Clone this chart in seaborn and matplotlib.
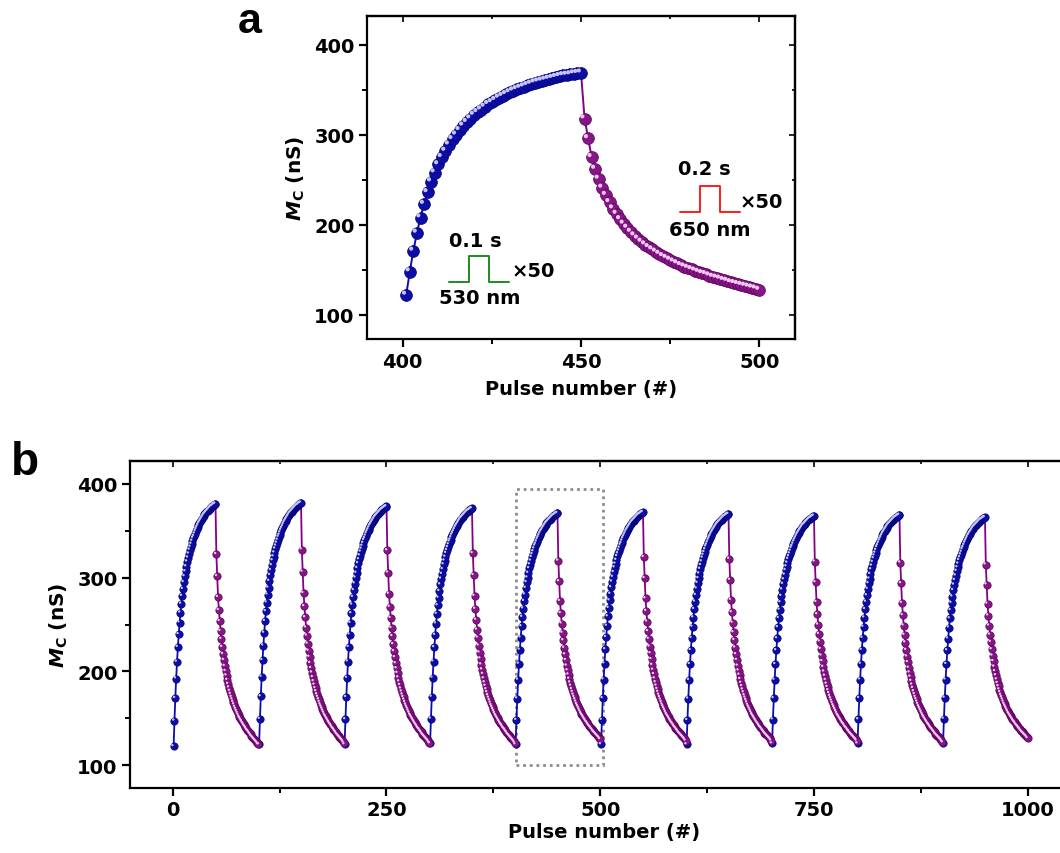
import numpy as np
import pandas as pd
import seaborn as sns
import matplotlib
matplotlib.use("Agg")
import matplotlib.pyplot as plt
from matplotlib.transforms import ScaledTranslation
from matplotlib.ticker import MultipleLocator
from matplotlib.patches import Rectangle

# ---------------- data ----------------
# Panel a: one potentiation / depression cycle (pulses 401-500)
pulse_a_set = list(range(401, 451))
mc_a_set = [122, 148, 171, 191, 208, 223, 236, 248, 258, 267,
            275, 282, 289, 295, 300, 305, 310, 314, 318, 322,
            325, 328, 331, 334, 336, 338.5, 341, 343, 345, 347,
            349, 350.5, 352, 353.5, 355, 356.5, 358, 359, 360, 361,
            362, 363, 364, 365, 366, 366.5, 367, 368, 368.5, 369]
pulse_a_reset = list(range(451, 501))
mc_a_reset = [318, 296, 275, 262, 251, 241, 233, 225, 218, 212,
              206, 201, 196.5, 192, 188, 184.5, 181, 178, 175, 172.5,
              170, 167.5, 165, 163, 161, 159, 157, 155, 153.5, 152,
              150.5, 149, 147.5, 146, 145, 143.5, 142, 141, 140, 138.5,
              137.5, 136, 135, 134, 133, 132, 131, 130, 129, 127.5]

# Panel b: ten cycles, read per-cycle key values (start, peak, first reset point, end)
cycle_start = [120, 122, 122, 123, 122, 122, 122, 123, 123, 124]
cycle_peak = [379, 380, 376, 374, 369, 370, 368, 366, 367, 364.5]
cycle_first_reset = [325, 330, 329, 326, 318, 322, 320, 317, 316, 314]
cycle_end = [122, 124, 124, 124, 127.5, 126, 126, 126, 125, 128.5]
pulses_per_half = 50

# inset annotations
pulse_green_x = [413, 418.6, 418.6, 424.2, 424.2, 429.8]
pulse_green_y = [135.8, 135.8, 164.8, 164.8, 135.8, 135.8]
pulse_red_x = [477.7, 483.3, 483.3, 488.9, 488.9, 494.5]
pulse_red_y = [213.8, 213.8, 242.8, 242.8, 213.8, 213.8]
box_b = dict(x0=401, x1=503, y0=100, y1=395)

# ---------------- style ----------------
sns.set_style("ticks")
plt.rcParams["font.family"] = ["DejaVu Sans"]
plt.rcParams["font.weight"] = "bold"
plt.rcParams["text.color"] = "black"
plt.rcParams["axes.labelcolor"] = "black"
plt.rcParams["xtick.color"] = "black"
plt.rcParams["ytick.color"] = "black"
plt.rcParams["mathtext.fontset"] = "custom"
plt.rcParams["mathtext.rm"] = "DejaVu Sans:bold"
plt.rcParams["mathtext.it"] = "DejaVu Sans:bold:italic"
plt.rcParams["mathtext.bf"] = "DejaVu Sans:bold"

BLUE = "#0c0ca6"
BLUE_EDGE = "#05056e"
BLUE_HL = "#c4c4ff"
BLUE_LINE = "#0c0cb4"
PURPLE = "#861686"
PURPLE_EDGE = "#5a005a"
PURPLE_HL = "#f0c8f0"
PURPLE_LINE = "#860086"

fig = plt.figure(figsize=(10.6, 8.54), dpi=100)
ax_a = fig.add_axes([367 / 1060, 1 - 340 / 854, 428 / 1060, 323 / 854])
ax_b = fig.add_axes([130 / 1060, 1 - 789 / 854, 949 / 1060, 327 / 854])


def build_frames(cycles):
    """cycles: list of (set_x, set_y, reset_x, reset_y)"""
    pts, lines = [], []
    seg = 0
    prev = None
    for sx, sy, rx, ry in cycles:
        lx, ly = list(sx), list(sy)
        if prev is not None:
            lx = [prev[0]] + lx
            ly = [prev[1]] + ly
        for x, y in zip(lx, ly):
            lines.append((x, y, "set", seg))
        seg += 1
        lx2 = [sx[-1]] + list(rx)
        ly2 = [sy[-1]] + list(ry)
        for x, y in zip(lx2, ly2):
            lines.append((x, y, "reset", seg))
        seg += 1
        for x, y in zip(sx, sy):
            pts.append((x, y, "set"))
        for x, y in zip(rx, ry):
            pts.append((x, y, "reset"))
        prev = (rx[-1], ry[-1])
    pts = pd.DataFrame(pts, columns=["pulse", "mc", "phase"])
    lines = pd.DataFrame(lines, columns=["pulse", "mc", "phase", "seg"])
    return pts, lines


def draw(ax, pts, lines, size, hl_size, off, lw):
    sns.lineplot(data=lines, x="pulse", y="mc", hue="phase", units="seg",
                 estimator=None, sort=False, legend=False, linewidth=lw,
                 palette={"set": BLUE_LINE, "reset": PURPLE_LINE}, ax=ax, zorder=2)
    for phase, col, edge, hl in [("set", BLUE, BLUE_EDGE, BLUE_HL),
                                 ("reset", PURPLE, PURPLE_EDGE, PURPLE_HL)]:
        d = pts[pts.phase == phase]
        sns.scatterplot(data=d, x="pulse", y="mc", color=col, s=size,
                        edgecolor=edge, linewidth=0.5, legend=False, ax=ax, zorder=3)
        sns.scatterplot(data=d, x="pulse", y="mc", color=hl, s=hl_size,
                        edgecolor="none", linewidth=0, legend=False, ax=ax, zorder=4)
        coll = ax.collections[-1]
        coll.set_offset_transform(ax.transData +
                                  ScaledTranslation(-off / 72, off / 72, fig.dpi_scale_trans))


# ---------------- panel a ----------------
pts_a, lines_a = build_frames([(pulse_a_set, mc_a_set, pulse_a_reset, mc_a_reset)])
draw(ax_a, pts_a, lines_a, size=72, hl_size=9, off=1.6, lw=1.4)
ax_a.set_xlim(390, 510)
ax_a.set_ylim(73, 432)
ax_a.xaxis.set_major_locator(MultipleLocator(50))
ax_a.xaxis.set_minor_locator(MultipleLocator(25))
ax_a.yaxis.set_major_locator(MultipleLocator(100))
ax_a.yaxis.set_minor_locator(MultipleLocator(50))
ax_a.set_xlabel("Pulse number (#)", fontsize=14, fontweight="bold", labelpad=6)
ax_a.set_ylabel(r"$M_{\mathrm{C}}$ (nS)", fontsize=14.5, fontweight="bold", labelpad=5)

ax_a.plot(pulse_green_x, pulse_green_y, color="#1f8a1f", lw=1.4)
ax_a.plot(pulse_red_x, pulse_red_y, color="#ff1a1a", lw=1.4)
tkw = dict(fontsize=14, fontweight="bold", ha="center", va="center")
ax_a.text(420.3, 183, "0.1 s", **tkw)
ax_a.text(421.5, 119, "530 nm", **tkw)
ax_a.text(436.5, 149, "\u00d750", **tkw)
ax_a.text(484.7, 262, "0.2 s", **tkw)
ax_a.text(486.0, 195, "650 nm", **tkw)
ax_a.text(500.5, 226, "\u00d750", **tkw)

# ---------------- panel b ----------------
cycles_b = []
set_arr = np.array(mc_a_set)
reset_arr = np.array(mc_a_reset)
set_shape = (set_arr - set_arr[0]) / (set_arr[-1] - set_arr[0])
reset_shape = (reset_arr - reset_arr[-1]) / (reset_arr[0] - reset_arr[-1])
for k in range(len(cycle_start)):
    base = 2 * pulses_per_half * k
    sx = list(range(base + 1, base + pulses_per_half + 1))
    rx = list(range(base + pulses_per_half + 1, base + 2 * pulses_per_half + 1))
    sy = cycle_start[k] + set_shape * (cycle_peak[k] - cycle_start[k])
    ry = cycle_end[k] + reset_shape * (cycle_first_reset[k] - cycle_end[k])
    cycles_b.append((sx, list(sy), rx, list(ry)))
pts_b, lines_b = build_frames(cycles_b)
draw(ax_b, pts_b, lines_b, size=28, hl_size=3, off=0.9, lw=1.3)
ax_b.set_xlim(-50, 1060)
ax_b.set_ylim(75.5, 424.5)
ax_b.xaxis.set_major_locator(MultipleLocator(250))
ax_b.xaxis.set_minor_locator(MultipleLocator(125))
ax_b.yaxis.set_major_locator(MultipleLocator(100))
ax_b.yaxis.set_minor_locator(MultipleLocator(50))
ax_b.set_xlabel("Pulse number (#)", fontsize=14, fontweight="bold", labelpad=2)
ax_b.set_ylabel(r"$M_{\mathrm{C}}$ (nS)", fontsize=14.5, fontweight="bold", labelpad=5)
ax_b.add_patch(Rectangle((box_b["x0"], box_b["y0"]), box_b["x1"] - box_b["x0"],
                         box_b["y1"] - box_b["y0"], fill=False, edgecolor="#8c8c8c",
                         lw=2.0, ls=(0, (1, 1.4)), zorder=1))

for ax in (ax_a, ax_b):
    for sp in ax.spines.values():
        sp.set_visible(True)
        sp.set_linewidth(1.6)
        sp.set_color("black")
    ax.tick_params(which="major", direction="out", length=6, width=1.6,
                   labelsize=14, pad=3, colors="black")
    ax.tick_params(which="minor", direction="out", length=3.5, width=1.4)
    for lab in ax.get_xticklabels() + ax.get_yticklabels():
        lab.set_fontweight("bold")
    secx = ax.secondary_xaxis("top")
    secx.set_xticks(ax.get_xticks())
    secx.xaxis.set_minor_locator(ax.xaxis.get_minor_locator())
    secx.tick_params(which="both", direction="in", labeltop=False, width=1.2)
    secx.tick_params(which="major", length=4)
    secx.tick_params(which="minor", length=2.5)
    secx.spines["top"].set_linewidth(1.6)
    secy = ax.secondary_yaxis("right")
    secy.set_yticks(ax.get_yticks())
    secy.yaxis.set_minor_locator(ax.yaxis.get_minor_locator())
    secy.tick_params(which="both", direction="in", labelright=False, width=1.2)
    secy.tick_params(which="major", length=4)
    secy.tick_params(which="minor", length=2.5)
    secy.spines["right"].set_linewidth(1.6)

fig.text(250 / 1060, 1 - 22 / 854, "a", fontsize=31, fontweight="bold",
         family="Liberation Sans", ha="center", va="center")
fig.text(25 / 1060, 1 - 463 / 854, "b", fontsize=33, fontweight="bold",
         family="Liberation Sans", ha="center", va="center")

fig.savefig("out.png", dpi=100)
